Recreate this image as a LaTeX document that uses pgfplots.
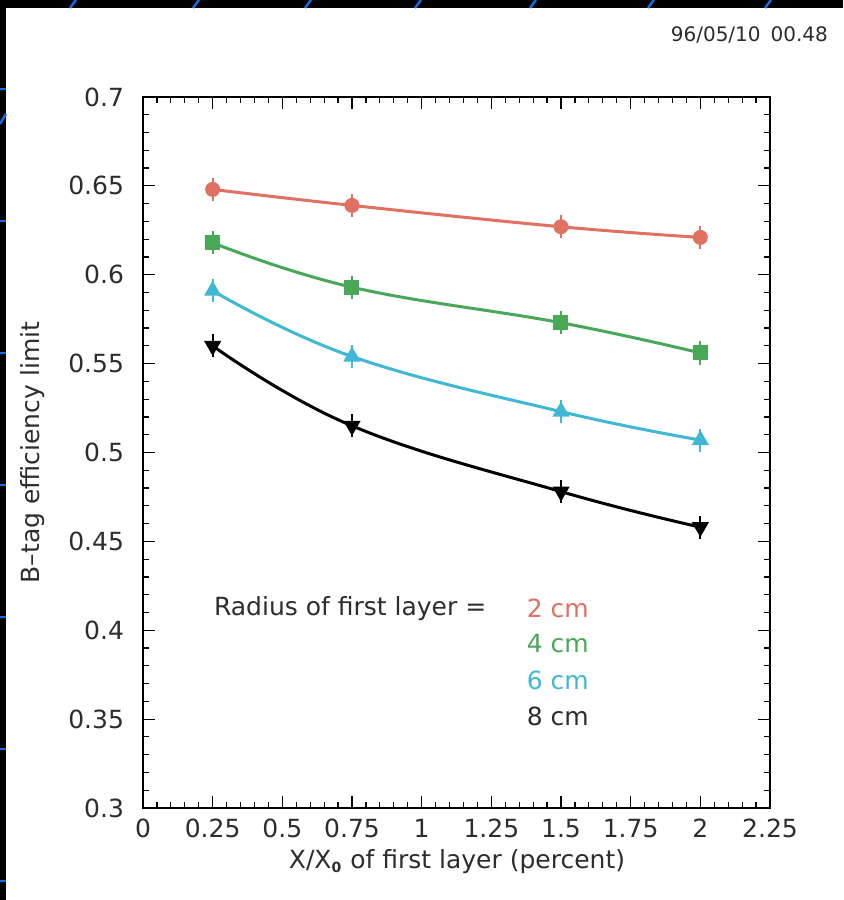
\documentclass[border=0pt]{standalone}
\usepackage{pgfplots}
\pgfplotsset{compat=1.18}
\usepackage{fontspec}
\setmainfont{DejaVu Sans}

\definecolor{rred}{RGB}{224,112,98}
\definecolor{rgreen}{RGB}{72,168,88}
\definecolor{rcyan}{RGB}{64,184,212}
\definecolor{slideblue}{RGB}{20,110,230}
\definecolor{ink}{RGB}{45,45,45}

% one reference pixel = 0.5pt, axis lower left at pixel (143,808)
\begin{document}
\begin{tikzpicture}
% slide background and the scanned page
\fill[black] (-71.5pt,-46pt) rectangle (350pt,404pt);
\fill[white] (-68.5pt,-46pt) rectangle (350pt,400pt);
\foreach \y in {359.5,293.5,227.5,161.5,95.5,29.5,-36.5}
  \draw[slideblue, line width=1pt] (-71.5pt,\y pt) -- (-68.5pt,\y pt);
\foreach \x in {-36.5,25,81,136,193.5,252.5,311}
  \draw[slideblue, line width=1.2pt] (\x pt,400pt) -- (\x pt+3pt,404pt);
\draw[slideblue, line width=1.2pt] (-71.5pt,342pt) -- (-68.5pt,347pt);

\node[anchor=east, text=ink, font=\fontsize{10}{12}\selectfont] at (346pt,386.5pt) {96/05/10\enspace 00.48};

\begin{axis}[
  scale only axis,
  width=313.5pt, height=355.5pt,
  xmin=0, xmax=2.25, ymin=0.3, ymax=0.7,
  xtick={0,0.25,0.5,0.75,1,1.25,1.5,1.75,2,2.25},
  ytick={0.3,0.35,0.4,0.45,0.5,0.55,0.6,0.65,0.7},
  minor x tick num=4, minor y tick num=4,
  tick align=inside,
  major tick length=6pt, minor tick length=3pt,
  every tick/.style={black, line width=0.6pt},
  axis line style={line width=1pt},
  font=\fontsize{12.5}{15}\selectfont,
  every tick label/.append style={text=ink},
  /pgf/number format/assume math mode=true,
  yticklabel style={xshift=-6pt},
  xticklabel style={yshift=-2pt},
  xlabel={X/X\textsubscript{\textbf{\scriptsize 0}} of first layer (percent)},
  ylabel={B–tag efficiency limit},
  xlabel style={at={(axis description cs:0.5008,-0.076)}, anchor=center, text=ink},
  ylabel style={at={(axis description cs:-0.176,0.5)}, anchor=center, text=ink},
  error bars/y dir=both, error bars/y fixed=0.0065,
  error bars/error mark=none,
]
\addplot[rred, line width=1.5pt, smooth, tension=0.7, mark=*, mark size=3pt,
  error bars/error bar style={rred, line width=1pt}]
  coordinates {(0.25,0.648) (0.75,0.639) (1.5,0.627) (2,0.621)};
\addplot[rgreen, line width=1.5pt, smooth, tension=0.7, mark=square*, mark size=3pt,
  error bars/error bar style={rgreen, line width=1pt}]
  coordinates {(0.25,0.618) (0.75,0.593) (1.5,0.573) (2,0.556)};
\addplot[rcyan, line width=1.5pt, smooth, tension=0.7, mark=triangle*, mark size=3.5pt,
  error bars/error bar style={rcyan, line width=1pt}]
  coordinates {(0.25,0.591) (0.75,0.554) (1.5,0.523) (2,0.507)};
\addplot[black, line width=1.5pt, smooth, tension=0.7, mark=triangle*, mark size=3.5pt,
  mark options={rotate=180},
  error bars/error bar style={black, line width=1pt}]
  coordinates {(0.25,0.560) (0.75,0.515) (1.5,0.478) (2,0.458)};

\node[anchor=west, text=ink] at (axis description cs:0.102,0.281) {Radius of first layer =};
\node[anchor=west, text=rred] at (axis description cs:0.601,0.281) {2 cm};
\node[anchor=west, text=rgreen] at (axis description cs:0.601,0.231) {4 cm};
\node[anchor=west, text=rcyan] at (axis description cs:0.601,0.180) {6 cm};
\node[anchor=west, text=ink] at (axis description cs:0.601,0.129) {8 cm};
\end{axis}
\pgfresetboundingbox
\path[use as bounding box] (-71.5pt,-46pt) rectangle (350pt,404pt);
\end{tikzpicture}
\end{document}
